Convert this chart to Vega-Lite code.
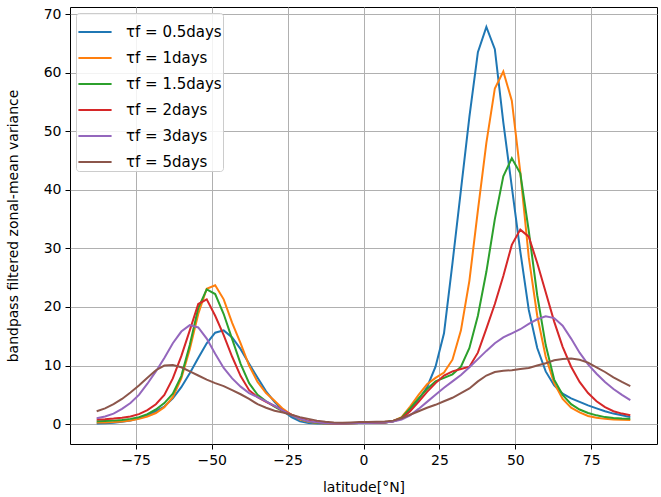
{
  "$schema": "https://vega.github.io/schema/vega-lite/v6.json",
  "width": 587,
  "height": 437,
  "autosize": {"type": "none"},
  "padding": {"left": 70, "top": 7, "right": 4, "bottom": 53},
  "background": "white",
  "config": {
    "font": "DejaVu Sans",
    "view": {"stroke": "black", "strokeWidth": 1},
    "axis": {
      "domain": false,
      "grid": true,
      "gridColor": "#b0b0b0",
      "gridWidth": 1,
      "tickColor": "black",
      "tickSize": 5,
      "labelFontSize": 14,
      "labelColor": "black",
      "titleFontSize": 14,
      "titleFontWeight": "normal",
      "titleColor": "black"
    }
  },
  "data": {
    "values": [
      {"lat": -87.86, "d05": 0.1, "d1": 0.3, "d15": 0.5, "d2": 0.8, "d3": 1.0, "d5": 2.2},
      {"lat": -85.10, "d05": 0.15, "d1": 0.3, "d15": 0.55, "d2": 0.85, "d3": 1.3, "d5": 2.7},
      {"lat": -82.31, "d05": 0.25, "d1": 0.35, "d15": 0.6, "d2": 0.95, "d3": 1.8, "d5": 3.4},
      {"lat": -79.53, "d05": 0.4, "d1": 0.45, "d15": 0.7, "d2": 1.1, "d3": 2.6, "d5": 4.3},
      {"lat": -76.74, "d05": 0.6, "d1": 0.6, "d15": 0.9, "d2": 1.3, "d3": 3.6, "d5": 5.4},
      {"lat": -73.95, "d05": 1.0, "d1": 0.9, "d15": 1.2, "d2": 1.7, "d3": 5.0, "d5": 6.6},
      {"lat": -71.16, "d05": 1.5, "d1": 1.3, "d15": 1.7, "d2": 2.4, "d3": 6.9, "d5": 7.9},
      {"lat": -68.37, "d05": 2.2, "d1": 1.9, "d15": 2.5, "d2": 3.4, "d3": 9.0, "d5": 9.2},
      {"lat": -65.58, "d05": 3.0, "d1": 2.9, "d15": 3.6, "d2": 5.0, "d3": 11.3, "d5": 10.0},
      {"lat": -62.79, "d05": 4.4, "d1": 4.6, "d15": 5.2, "d2": 7.8, "d3": 13.8, "d5": 10.1},
      {"lat": -60.00, "d05": 6.3, "d1": 7.8, "d15": 8.2, "d2": 11.6, "d3": 15.8, "d5": 9.7},
      {"lat": -57.21, "d05": 8.7, "d1": 12.8, "d15": 13.5, "d2": 16.0, "d3": 16.9, "d5": 9.0},
      {"lat": -54.42, "d05": 11.3, "d1": 18.8, "d15": 19.8, "d2": 20.5, "d3": 16.5, "d5": 8.3},
      {"lat": -51.63, "d05": 13.8, "d1": 23.1, "d15": 23.0, "d2": 21.3, "d3": 14.6, "d5": 7.6},
      {"lat": -48.84, "d05": 15.6, "d1": 23.7, "d15": 22.2, "d2": 18.5, "d3": 12.0, "d5": 7.0},
      {"lat": -46.04, "d05": 16.0, "d1": 21.3, "d15": 18.8, "d2": 15.2, "d3": 9.6, "d5": 6.5},
      {"lat": -43.25, "d05": 14.8, "d1": 17.3, "d15": 14.5, "d2": 11.5, "d3": 7.8, "d5": 5.8},
      {"lat": -40.46, "d05": 12.8, "d1": 13.8, "d15": 10.3, "d2": 8.2, "d3": 6.4, "d5": 5.1},
      {"lat": -37.67, "d05": 10.3, "d1": 10.0, "d15": 7.0, "d2": 5.8, "d3": 5.3, "d5": 4.3},
      {"lat": -34.88, "d05": 7.9, "d1": 7.2, "d15": 5.0, "d2": 4.6, "d3": 4.6, "d5": 3.4},
      {"lat": -32.09, "d05": 5.6, "d1": 5.3, "d15": 3.9, "d2": 3.8, "d3": 3.9, "d5": 2.8},
      {"lat": -29.30, "d05": 3.8, "d1": 4.0, "d15": 3.0, "d2": 3.1, "d3": 3.1, "d5": 2.3},
      {"lat": -26.51, "d05": 2.3, "d1": 2.6, "d15": 2.2, "d2": 2.3, "d3": 2.3, "d5": 2.0},
      {"lat": -23.72, "d05": 1.2, "d1": 1.6, "d15": 1.5, "d2": 1.6, "d3": 1.5, "d5": 1.6},
      {"lat": -20.93, "d05": 0.5, "d1": 0.8, "d15": 0.9, "d2": 1.0, "d3": 0.9, "d5": 1.2},
      {"lat": -18.14, "d05": 0.2, "d1": 0.4, "d15": 0.5, "d2": 0.6, "d3": 0.5, "d5": 0.9},
      {"lat": -15.35, "d05": 0.1, "d1": 0.2, "d15": 0.25, "d2": 0.35, "d3": 0.3, "d5": 0.6},
      {"lat": -12.56, "d05": 0.05, "d1": 0.1, "d15": 0.15, "d2": 0.2, "d3": 0.15, "d5": 0.4},
      {"lat": -9.77, "d05": 0.05, "d1": 0.08, "d15": 0.1, "d2": 0.12, "d3": 0.1, "d5": 0.3},
      {"lat": -6.98, "d05": 0.1, "d1": 0.1, "d15": 0.1, "d2": 0.1, "d3": 0.1, "d5": 0.25},
      {"lat": -4.19, "d05": 0.15, "d1": 0.15, "d15": 0.15, "d2": 0.15, "d3": 0.15, "d5": 0.3},
      {"lat": -1.40, "d05": 0.2, "d1": 0.2, "d15": 0.2, "d2": 0.2, "d3": 0.2, "d5": 0.35},
      {"lat": 1.40, "d05": 0.2, "d1": 0.2, "d15": 0.2, "d2": 0.2, "d3": 0.2, "d5": 0.35},
      {"lat": 4.19, "d05": 0.25, "d1": 0.25, "d15": 0.25, "d2": 0.25, "d3": 0.25, "d5": 0.4},
      {"lat": 6.98, "d05": 0.3, "d1": 0.3, "d15": 0.3, "d2": 0.3, "d3": 0.3, "d5": 0.45},
      {"lat": 9.77, "d05": 0.5, "d1": 0.55, "d15": 0.5, "d2": 0.5, "d3": 0.45, "d5": 0.6},
      {"lat": 12.56, "d05": 1.0, "d1": 1.2, "d15": 1.1, "d2": 1.0, "d3": 0.8, "d5": 1.0},
      {"lat": 15.35, "d05": 2.3, "d1": 3.0, "d15": 2.7, "d2": 2.2, "d3": 1.5, "d5": 1.6},
      {"lat": 18.14, "d05": 4.2, "d1": 5.0, "d15": 4.4, "d2": 3.8, "d3": 2.6, "d5": 2.2},
      {"lat": 20.93, "d05": 6.3, "d1": 6.8, "d15": 6.0, "d2": 5.5, "d3": 3.8, "d5": 2.8},
      {"lat": 23.72, "d05": 9.8, "d1": 7.9, "d15": 7.3, "d2": 7.0, "d3": 5.0, "d5": 3.3},
      {"lat": 26.51, "d05": 15.5, "d1": 8.8, "d15": 7.9, "d2": 8.3, "d3": 6.2, "d5": 3.9},
      {"lat": 29.30, "d05": 27.5, "d1": 11.0, "d15": 8.5, "d2": 9.0, "d3": 7.3, "d5": 4.5},
      {"lat": 32.09, "d05": 40.0, "d1": 16.0, "d15": 9.8, "d2": 9.4, "d3": 8.4, "d5": 5.3},
      {"lat": 34.88, "d05": 52.5, "d1": 24.5, "d15": 13.0, "d2": 9.8, "d3": 9.7, "d5": 6.1},
      {"lat": 37.67, "d05": 63.5, "d1": 36.5, "d15": 18.5, "d2": 12.2, "d3": 11.1, "d5": 7.3},
      {"lat": 40.46, "d05": 67.8, "d1": 48.0, "d15": 26.0, "d2": 16.3, "d3": 12.5, "d5": 8.3},
      {"lat": 43.25, "d05": 64.0, "d1": 57.3, "d15": 35.0, "d2": 20.5, "d3": 13.8, "d5": 8.9},
      {"lat": 46.04, "d05": 51.5, "d1": 60.2, "d15": 42.3, "d2": 25.3, "d3": 14.8, "d5": 9.1},
      {"lat": 48.84, "d05": 40.5, "d1": 55.2, "d15": 45.4, "d2": 30.6, "d3": 15.5, "d5": 9.2},
      {"lat": 51.63, "d05": 29.5, "d1": 43.0, "d15": 42.8, "d2": 33.2, "d3": 16.2, "d5": 9.4},
      {"lat": 54.42, "d05": 19.5, "d1": 28.5, "d15": 33.0, "d2": 32.0, "d3": 17.1, "d5": 9.6},
      {"lat": 57.21, "d05": 13.0, "d1": 18.5, "d15": 22.0, "d2": 27.5, "d3": 17.9, "d5": 10.0},
      {"lat": 60.00, "d05": 9.0, "d1": 11.5, "d15": 13.5, "d2": 22.5, "d3": 18.4, "d5": 10.4},
      {"lat": 62.79, "d05": 6.6, "d1": 7.0, "d15": 7.6, "d2": 17.5, "d3": 18.1, "d5": 10.9},
      {"lat": 65.58, "d05": 5.2, "d1": 4.3, "d15": 5.0, "d2": 13.2, "d3": 16.8, "d5": 11.1},
      {"lat": 68.37, "d05": 4.4, "d1": 2.8, "d15": 3.4, "d2": 9.8, "d3": 14.6, "d5": 11.2},
      {"lat": 71.16, "d05": 3.8, "d1": 2.0, "d15": 2.5, "d2": 7.2, "d3": 12.2, "d5": 11.0},
      {"lat": 73.95, "d05": 3.2, "d1": 1.4, "d15": 1.9, "d2": 5.3, "d3": 10.2, "d5": 10.5},
      {"lat": 76.74, "d05": 2.7, "d1": 1.1, "d15": 1.5, "d2": 3.9, "d3": 8.6, "d5": 9.7},
      {"lat": 79.53, "d05": 2.2, "d1": 0.9, "d15": 1.2, "d2": 2.9, "d3": 7.2, "d5": 8.9},
      {"lat": 82.31, "d05": 1.8, "d1": 0.8, "d15": 1.05, "d2": 2.2, "d3": 6.0, "d5": 8.0},
      {"lat": 85.10, "d05": 1.5, "d1": 0.75, "d15": 0.95, "d2": 1.8, "d3": 5.0, "d5": 7.2},
      {"lat": 87.86, "d05": 1.2, "d1": 0.7, "d15": 0.9, "d2": 1.5, "d3": 4.1, "d5": 6.5}
    ]
  },
  "transform": [
    {"fold": ["d05", "d1", "d15", "d2", "d3", "d5"], "as": ["tau", "v"]}
  ],
  "mark": {"type": "line", "strokeWidth": 2, "clip": true},
  "encoding": {
    "x": {
      "field": "lat",
      "type": "quantitative",
      "scale": {"domain": [-96.65, 96.65], "nice": false, "zero": false},
      "axis": {"values": [-75, -50, -25, 0, 25, 50, 75], "title": "latitude[°N]", "titlePadding": 13, "labelPadding": 4, "labelExpr": "replace(datum.label, '-', '−')"}
    },
    "y": {
      "field": "v",
      "type": "quantitative",
      "scale": {"domain": [-3.39, 71.2], "nice": false, "zero": false},
      "axis": {"values": [0, 10, 20, 30, 40, 50, 60, 70], "title": "bandpass filtered zonal-mean variance", "titlePadding": 23, "labelPadding": 4}
    },
    "color": {
      "field": "tau",
      "type": "nominal",
      "scale": {
        "domain": ["d05", "d1", "d15", "d2", "d3", "d5"],
        "range": ["#1f77b4", "#ff7f0e", "#2ca02c", "#d62728", "#9467bd", "#8c564b"]
      },
      "legend": {
        "title": null,
        "orient": "top-left",
        "offset": 6,
        "padding": 1,
        "symbolType": "stroke",
        "symbolStrokeWidth": 2,
        "symbolSize": 1100,
        "labelFontSize": 15,
        "labelColor": "black",
        "rowPadding": -2,
        "labelOffset": 13,
        "strokeColor": "#cccccc",
        "fillColor": "rgba(255,255,255,0.85)",
        "cornerRadius": 3,
        "labelExpr": "{'d05': 'τf = 0.5days', 'd1': 'τf = 1days', 'd15': 'τf = 1.5days', 'd2': 'τf = 2days', 'd3': 'τf = 3days', 'd5': 'τf = 5days'}[datum.value]"
      }
    }
  }
}
